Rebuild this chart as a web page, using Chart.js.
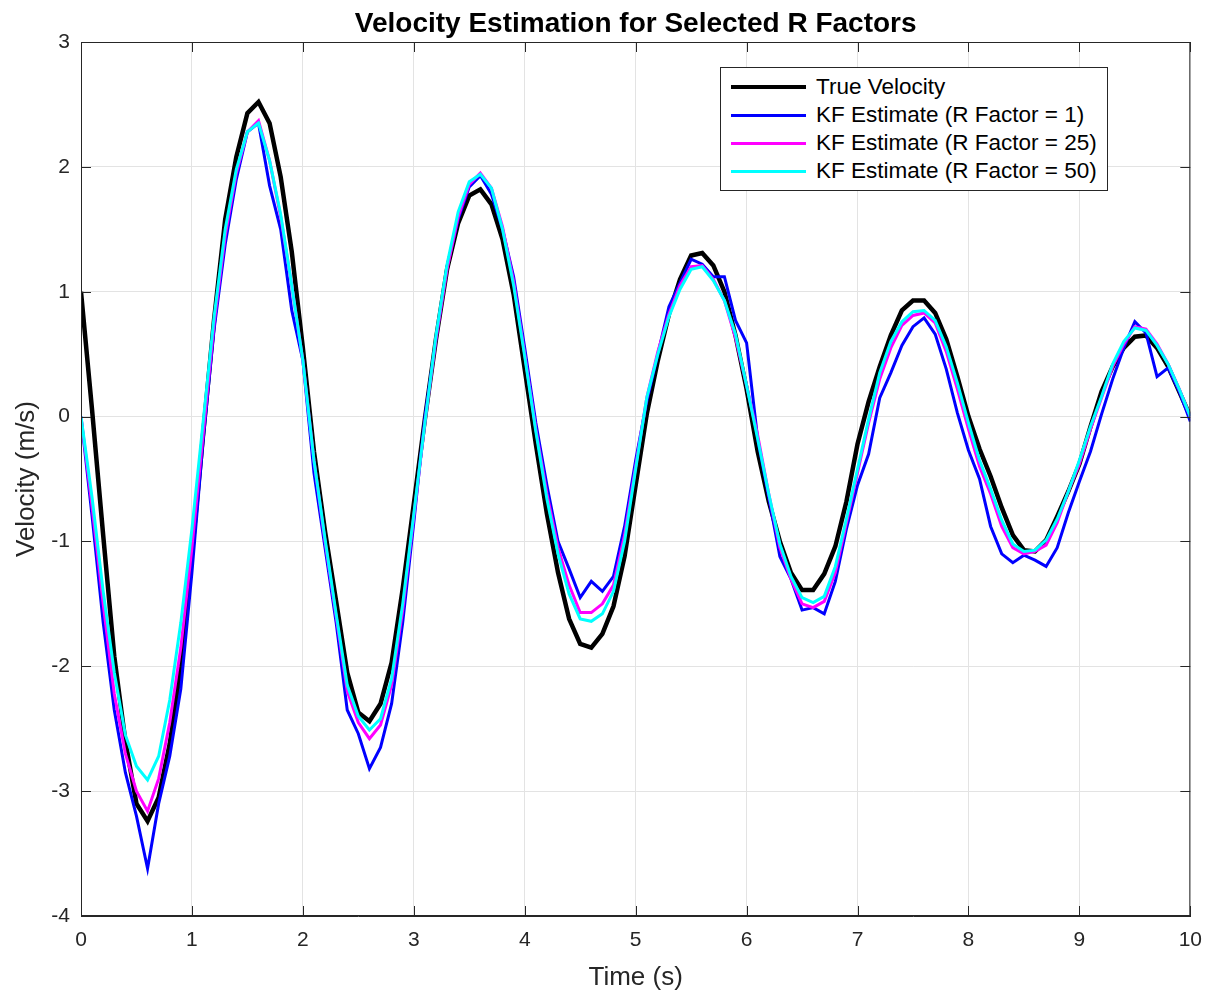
<!DOCTYPE html>
<html>
<head>
<meta charset="utf-8">
<title>Velocity Estimation for Selected R Factors</title>
<script src="https://cdn.jsdelivr.net/npm/chart.js@4.4.0/dist/chart.umd.min.js"></script>
<style>
  body { margin: 0; background: #fff; }
  #wrap { position: relative; width: 1214px; height: 996px; }
  #legend {
    position: absolute; left: 720px; top: 67px; width: 388px; height: 124px;
    box-sizing: border-box; border: 1px solid #262626; background: #fff;
    padding-top: 5px; font-family: "Liberation Sans", Arial, Helvetica, sans-serif;
    font-size: 22.5px; color: #000;
  }
  .row { display: flex; align-items: center; height: 28px; }
  .swatch { margin-left: 10px; width: 75px; margin-right: 10px; }
</style>
</head>
<body>
<div id="wrap">
  <canvas id="velocityChart"></canvas>
  <div id="legend"></div>
</div>
<script>
// time samples (s)
const time = [0,0.1,0.2,0.3,0.4,0.5,0.6,0.7,0.8,0.9,1,1.1,1.2,1.3,1.4,1.5,1.6,1.7,1.8,1.9,
  2,2.1,2.2,2.3,2.4,2.5,2.6,2.7,2.8,2.9,3,3.1,3.2,3.3,3.4,3.5,3.6,3.7,3.8,3.9,
  4,4.1,4.2,4.3,4.4,4.5,4.6,4.7,4.8,4.9,5,5.1,5.2,5.3,5.4,5.5,5.6,5.7,5.8,5.9,
  6,6.1,6.2,6.3,6.4,6.5,6.6,6.7,6.8,6.9,7,7.1,7.2,7.3,7.4,7.5,7.6,7.7,7.8,7.9,
  8,8.1,8.2,8.3,8.4,8.5,8.6,8.7,8.8,8.9,9,9.1,9.2,9.3,9.4,9.5,9.6,9.7,9.8,9.9,10];

const trueVelocity = [1.00,0.05,-0.95,-1.92,-2.60,-3.10,-3.24,-3.05,-2.62,-2.00,
  -1.10,-0.15,0.78,1.58,2.08,2.43,2.52,2.35,1.92,1.32,
  0.55,-0.28,-0.92,-1.48,-2.05,-2.37,-2.44,-2.30,-1.97,-1.38,
  -0.70,-0.02,0.62,1.18,1.55,1.77,1.82,1.70,1.42,0.98,
  0.38,-0.22,-0.78,-1.25,-1.62,-1.82,-1.85,-1.74,-1.52,-1.12,
  -0.55,0.02,0.45,0.82,1.10,1.29,1.31,1.21,1.00,0.65,
  0.22,-0.28,-0.68,-1.00,-1.25,-1.39,-1.39,-1.26,-1.04,-0.68,
  -0.22,0.12,0.40,0.65,0.85,0.93,0.93,0.83,0.62,0.32,
  0.00,-0.26,-0.48,-0.73,-0.95,-1.07,-1.08,-0.99,-0.80,-0.60,
  -0.38,-0.08,0.20,0.40,0.55,0.64,0.65,0.55,0.40,0.20,0.00];

const kfR1 = [0.00,-0.80,-1.65,-2.35,-2.85,-3.20,-3.62,-3.10,-2.72,-2.18,
  -1.25,-0.20,0.70,1.38,1.90,2.28,2.35,1.85,1.50,0.85,
  0.45,-0.45,-1.05,-1.65,-2.35,-2.54,-2.82,-2.65,-2.30,-1.65,
  -0.85,0.00,0.62,1.20,1.58,1.84,1.93,1.78,1.50,1.12,
  0.55,-0.05,-0.55,-1.00,-1.22,-1.45,-1.32,-1.40,-1.28,-0.88,
  -0.35,0.12,0.50,0.88,1.07,1.26,1.22,1.12,1.12,0.77,
  0.59,-0.18,-0.65,-1.12,-1.30,-1.55,-1.53,-1.58,-1.32,-0.90,
  -0.55,-0.30,0.15,0.35,0.57,0.72,0.79,0.66,0.38,0.03,
  -0.27,-0.50,-0.88,-1.10,-1.17,-1.11,-1.15,-1.20,-1.05,-0.77,
  -0.52,-0.28,0.02,0.30,0.55,0.76,0.67,0.32,0.39,0.20,-0.04];

const kfR25 = [0.00,-0.72,-1.50,-2.22,-2.70,-3.00,-3.16,-2.90,-2.45,-1.85,
  -1.05,-0.15,0.75,1.45,1.95,2.28,2.37,2.05,1.60,1.05,
  0.45,-0.35,-1.00,-1.60,-2.20,-2.45,-2.58,-2.47,-2.15,-1.55,
  -0.80,-0.05,0.62,1.18,1.60,1.86,1.95,1.83,1.52,1.08,
  0.50,-0.10,-0.62,-1.05,-1.35,-1.57,-1.57,-1.50,-1.35,-0.95,
  -0.40,0.15,0.52,0.82,1.05,1.20,1.21,1.10,0.93,0.63,
  0.25,-0.15,-0.62,-1.05,-1.30,-1.50,-1.53,-1.48,-1.25,-0.85,
  -0.45,-0.05,0.30,0.55,0.73,0.81,0.83,0.75,0.52,0.22,
  -0.10,-0.40,-0.62,-0.88,-1.05,-1.10,-1.08,-1.03,-0.85,-0.60,
  -0.38,-0.10,0.15,0.40,0.58,0.72,0.70,0.58,0.42,0.22,0.00];

const kfR50 = [0.00,-0.65,-1.40,-2.05,-2.55,-2.80,-2.91,-2.72,-2.27,-1.65,
  -0.90,-0.05,0.80,1.50,1.98,2.28,2.35,2.05,1.62,1.05,
  0.45,-0.35,-0.98,-1.58,-2.15,-2.40,-2.51,-2.42,-2.10,-1.50,
  -0.78,-0.05,0.65,1.22,1.64,1.88,1.94,1.83,1.50,1.05,
  0.48,-0.12,-0.66,-1.10,-1.42,-1.62,-1.64,-1.58,-1.40,-1.00,
  -0.42,0.15,0.50,0.80,1.02,1.18,1.20,1.09,0.93,0.66,
  0.25,-0.18,-0.62,-1.02,-1.28,-1.45,-1.49,-1.44,-1.20,-0.82,
  -0.42,-0.02,0.35,0.60,0.76,0.84,0.85,0.77,0.56,0.27,
  -0.05,-0.35,-0.58,-0.83,-1.02,-1.08,-1.07,-0.99,-0.82,-0.60,
  -0.35,-0.08,0.16,0.42,0.60,0.71,0.69,0.57,0.42,0.22,0.00];

const seriesNames = ["True Velocity", "KF Estimate (R Factor = 1)", "KF Estimate (R Factor = 25)", "KF Estimate (R Factor = 50)"];
const seriesColors = ["#000000", "#0000ff", "#ff00ff", "#00ffff"];
const seriesWidths = [4.5, 3, 3, 3];
const seriesData = [trueVelocity, kfR1, kfR25, kfR50];

const FONT = "'Liberation Sans', Arial, Helvetica, sans-serif";
const AXIS_COLOR = "#262626";

// box round the plot with inward ticks (matlab style)
const boxPlugin = {
  id: "boxTicks",
  afterLayout(chart) {
    // center the title over the axes, not the whole canvas
    if (chart.titleBlock) {
      chart.titleBlock.left = chart.chartArea.left;
      chart.titleBlock.right = chart.chartArea.right;
    }
  },
  afterDraw(chart) {
    const { ctx, chartArea: a, scales } = chart;
    const len = 10;
    ctx.save();
    ctx.strokeStyle = AXIS_COLOR;
    ctx.lineWidth = 1;
    ctx.strokeRect(a.left + 0.5, a.top + 0.5, a.right - a.left - 1, a.bottom - a.top - 1);
    ctx.beginPath();
    scales.x.ticks.forEach(t => {
      const px = Math.round(scales.x.getPixelForValue(t.value)) + 0.5;
      ctx.moveTo(px, a.bottom); ctx.lineTo(px, a.bottom - len);
      ctx.moveTo(px, a.top); ctx.lineTo(px, a.top + len);
    });
    scales.y.ticks.forEach(t => {
      const py = Math.round(scales.y.getPixelForValue(t.value)) + 0.5;
      ctx.moveTo(a.left, py); ctx.lineTo(a.left + len, py);
      ctx.moveTo(a.right, py); ctx.lineTo(a.right - len, py);
    });
    ctx.stroke();
    ctx.restore();
  }
};

const ctx = document.getElementById("velocityChart").getContext("2d");
document.getElementById("velocityChart").parentNode.style.height = "996px";

const velocityChart = new Chart(ctx, {
  type: "line",
  data: {
    datasets: seriesNames.map((name, i) => ({
      label: name,
      data: time.map((t, k) => ({ x: t, y: seriesData[i][k] })),
      borderColor: seriesColors[i],
      backgroundColor: seriesColors[i],
      borderWidth: seriesWidths[i],
      pointRadius: 0,
      tension: 0,
      fill: false,
      order: 4 - i
    }))
  },
  options: {
    responsive: true,
    maintainAspectRatio: false,
    animation: false,
    layout: { padding: { left: 0, right: 23, top: 0, bottom: 0 } },
    scales: {
      x: {
        type: "linear",
        min: 0,
        max: 10,
        ticks: { stepSize: 1, color: AXIS_COLOR, font: { family: FONT, size: 21 }, padding: 12, maxRotation: 0 },
        grid: { color: "#e3e3e3", drawTicks: false },
        border: { color: AXIS_COLOR },
        title: { display: true, text: "Time (s)", color: AXIS_COLOR, font: { family: FONT, size: 26 }, padding: { top: 0, bottom: 3 } },
        afterFit: s => { s.height = 80; }
      },
      y: {
        min: -4,
        max: 3,
        ticks: { stepSize: 1, color: AXIS_COLOR, font: { family: FONT, size: 21 }, padding: 11 },
        grid: { color: "#e3e3e3", drawTicks: false },
        border: { color: AXIS_COLOR },
        title: { display: true, text: "Velocity (m/s)", color: AXIS_COLOR, font: { family: FONT, size: 26 }, padding: { top: 11, bottom: 0 } },
        afterFit: s => { s.width = 81; }
      }
    },
    plugins: {
      legend: { display: false },
      tooltip: { enabled: false },
      title: {
        display: true,
        text: "Velocity Estimation for Selected R Factors",
        color: "#000",
        font: { family: FONT, size: 28, weight: "bold" },
        padding: { top: 7, bottom: 1.4 }
      }
    }
  },
  plugins: [boxPlugin]
});

// legend box inside the axes
const legendEl = document.getElementById("legend");
seriesNames.forEach((name, i) => {
  const row = document.createElement("div");
  row.className = "row";
  const sw = document.createElement("div");
  sw.className = "swatch";
  sw.style.height = seriesWidths[i] + "px";
  sw.style.background = seriesColors[i];
  const label = document.createElement("span");
  label.textContent = name;
  row.appendChild(sw);
  row.appendChild(label);
  legendEl.appendChild(row);
});
</script>
</body>
</html>
